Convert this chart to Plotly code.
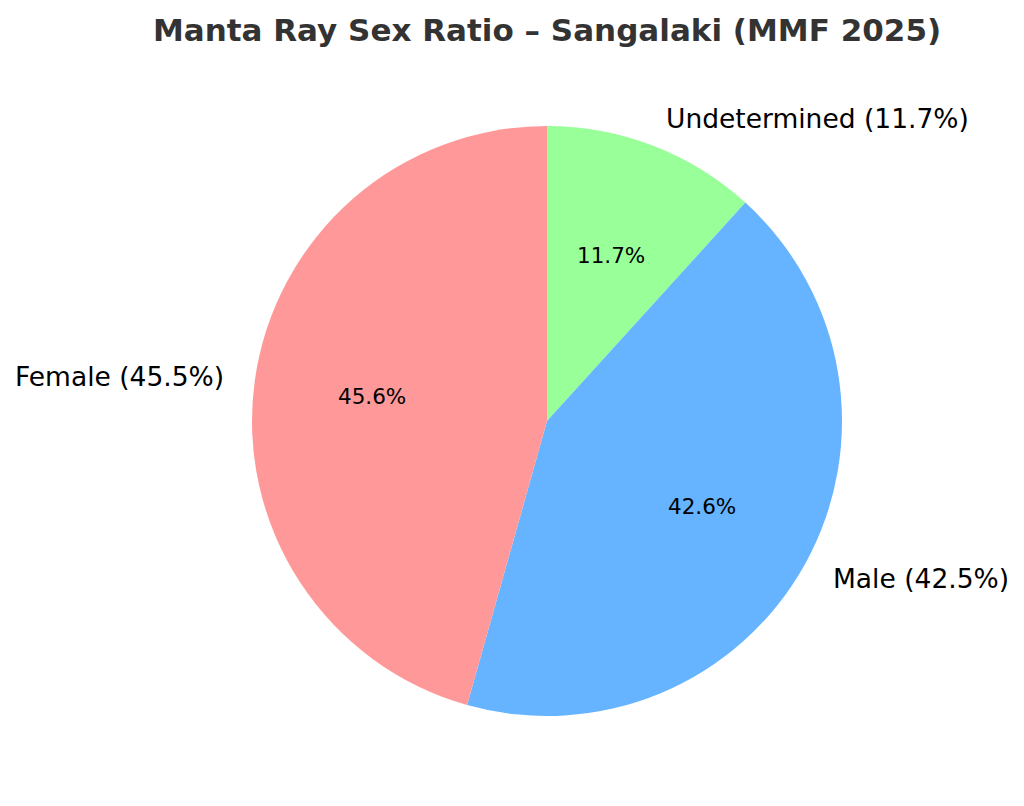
import math
import plotly.graph_objects as go

# Data (listed clockwise from 12 o'clock)
categories = ["Undetermined", "Male", "Female"]
values = [11.7, 42.5, 45.5]
colors = ["#99ff99", "#66b3ff", "#ff9999"]
title_text = "Manta Ray Sex Ratio – Sangalaki (MMF 2025)"

OFF = 8                      # browser body margin
W, H = 1024 - OFF, 806 - OFF  # figure size
cx, cy, r = 547 - OFF, 421 - OFF, 295  # pie centre / radius in figure pixels

fig = go.Figure(go.Pie(
    labels=categories,
    values=values,
    marker=dict(colors=colors, line=dict(width=0)),
    sort=False,
    direction="clockwise",
    rotation=0,
    textinfo="none",
    hoverinfo="label+percent",
    showlegend=False,
    domain=dict(x=[(cx - r) / W, (cx + r) / W], y=[1 - (cy + r) / H, 1 - (cy - r) / H]),
))

total = sum(values)
start = 90.0
annotations = []
for cat, v in zip(categories, values):
    span = v / total * 360.0
    mid = math.radians(start - span / 2)
    start -= span
    # outside label at 1.1 r
    lx = cx + 1.1 * r * math.cos(mid)
    ly = cy - 1.1 * r * math.sin(mid)
    annotations.append(dict(
        x=lx / W, y=1 - ly / H, xref="paper", yref="paper",
        text=f"{cat} ({v:.1f}%)", showarrow=False,
        xanchor="left" if math.cos(mid) > 0 else "right", yanchor="middle",
        font=dict(family="DejaVu Sans", size=26.5, color="#000000"),
    ))
    # percentage at 0.6 r
    px = cx + 0.6 * r * math.cos(mid)
    py = cy - 0.6 * r * math.sin(mid)
    annotations.append(dict(
        x=px / W, y=1 - py / H, xref="paper", yref="paper",
        text=f"{v / total * 100:.1f}%", showarrow=False,
        xanchor="center", yanchor="middle",
        font=dict(family="DejaVu Sans", size=21.5, color="#000000"),
    ))

fig.update_layout(
    width=W, height=H,
    margin=dict(l=0, r=0, t=0, b=0),
    paper_bgcolor="white", plot_bgcolor="white",
    title=dict(text=f"<b>{title_text}</b>", x=cx / W, xanchor="center",
               y=1 - (30 - OFF) / H, yanchor="middle", yref="container",
               font=dict(family="DejaVu Sans", size=31, color="#333333")),
    annotations=annotations,
)

fig.write_html("out.html")
